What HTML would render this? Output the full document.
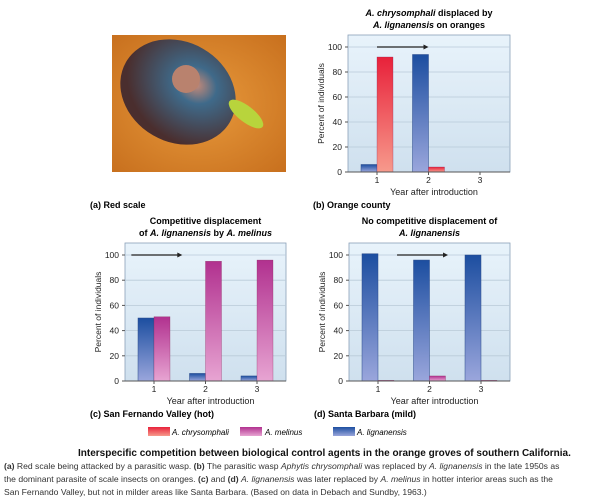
<!DOCTYPE html>
<html><head><meta charset="utf-8"><style>
body{margin:0;background:#fff;width:602px;height:502px;overflow:hidden;font-family:"Liberation Sans",sans-serif}
svg{display:block}
</style></head><body>
<svg id="s" width="602" height="502" xmlns="http://www.w3.org/2000/svg" font-family="Liberation Sans, sans-serif">
<defs>
<linearGradient id="bg" x1="0" y1="0" x2="0" y2="1"><stop offset="0" stop-color="#e8f3fb"/><stop offset="1" stop-color="#cfe0ee"/></linearGradient>
<linearGradient id="gb" x1="0" y1="0" x2="0" y2="1"><stop offset="0" stop-color="#1c4ea0"/><stop offset="1" stop-color="#9aa6dc"/></linearGradient>
<linearGradient id="gr" x1="0" y1="0" x2="0" y2="1"><stop offset="0" stop-color="#e8213a"/><stop offset="1" stop-color="#f79a8c"/></linearGradient>
<linearGradient id="gm" x1="0" y1="0" x2="0" y2="1"><stop offset="0" stop-color="#b1318f"/><stop offset="1" stop-color="#e7a4d2"/></linearGradient>
<radialGradient id="ph" cx="0.5" cy="0.5" r="0.7"><stop offset="0" stop-color="#e89a3c"/><stop offset="1" stop-color="#c8701e"/></radialGradient>
<radialGradient id="sc" cx="0.6" cy="0.35" r="0.6"><stop offset="0" stop-color="#c88a78"/><stop offset="0.3" stop-color="#3f6a8a"/><stop offset="1" stop-color="#4a2e2e"/></radialGradient>
</defs>
<g>
<rect x="112" y="35" width="174" height="137" fill="url(#ph)"/>
<ellipse cx="178" cy="92" rx="60" ry="50" fill="url(#sc)" transform="rotate(30 178 92)"/>
<ellipse cx="186" cy="79" rx="14" ry="14" fill="#b9826e"/>
<ellipse cx="246" cy="114" rx="21" ry="8" fill="#b8d43c" transform="rotate(38 246 114)"/>
</g>
<text x="90" y="208" font-size="9" font-weight="bold">(a) Red scale</text>
<g id="charts"></g>
<g font-size="8" font-style="italic">
<rect x="148" y="427" width="22" height="9" fill="url(#gr)"/><text x="172" y="435">A. chrysomphali</text>
<rect x="240" y="427" width="22" height="9" fill="url(#gm)"/><text x="265" y="435">A. melinus</text>
<rect x="333" y="427" width="22" height="9" fill="url(#gb)"/><text x="357" y="435">A. lignanensis</text>
</g>
<g font-size="8.6" fill="#333">
<text x="78" y="456" font-size="10" font-weight="bold" fill="#111">Interspecific competition between biological control agents in the orange groves of southern California.</text>
<text x="4" y="469"><tspan font-weight="bold">(a)</tspan> Red scale being attacked by a parasitic wasp. <tspan font-weight="bold">(b)</tspan> The parasitic wasp <tspan font-style="italic">Aphytis chrysomphali</tspan> was replaced by <tspan font-style="italic">A. lignanensis</tspan> in the late 1950s as</text>
<text x="4" y="482">the dominant parasite of scale insects on oranges. <tspan font-weight="bold">(c)</tspan> and <tspan font-weight="bold">(d)</tspan> <tspan font-style="italic">A. lignanensis</tspan> was later replaced by <tspan font-style="italic">A. melinus</tspan> in hotter interior areas such as the</text>
<text x="4" y="495">San Fernando Valley, but not in milder areas like Santa Barbara. (Based on data in Debach and Sundby, 1963.)</text>
</g>
</svg>
<script>
const years=["1","2","3"];
const yTicks=[0,20,40,60,80,100];
const bBlue=[6,94,null];
const bRed=[92,4,null];
const cBlue=[50,6,4];
const cMag=[51,95,96];
const dBlue=[101,96,100];
const dMag=[0.5,4,0.5];
const NS="http://www.w3.org/2000/svg";
const root=document.getElementById('charts');
function mk(tag,attrs,parent,txt){const e=document.createElementNS(NS,tag);for(const k in attrs)e.setAttribute(k,attrs[k]);if(txt!=null)e.textContent=txt;(parent||root).appendChild(e);return e;}
function chart(name,L,T,B,R,blue,other,otherFill,arrowFrom,arrowTo,title1,title2,label){
  const g=mk('g',{});
  
  
  const y=v=>B-v*(B-(T+12))/100;
  const x=i=>L+29+i*51.5;
  const bg=mk('rect',{x:L,y:T,width:R-L,height:B-T,fill:'url(#bg)',stroke:'#8aa0b8','stroke-width':0.8},g);
  
  yTicks.forEach(t=>{
    if(t>0){const gl=mk('line',{x1:L,x2:R,y1:y(t),y2:y(t),stroke:'#b9cad8','stroke-width':0.8},g);}
    mk('line',{x1:L-3,x2:L,y1:y(t),y2:y(t),stroke:'#555'},g);
    const tl=mk('text',{x:L-6,y:y(t)+3,'font-size':8.5,'text-anchor':'end',fill:'#222'},g,String(t));
    
  });
  years.forEach((yr,i)=>{
    const tl=mk('text',{x:x(i),y:B+11,'font-size':8.5,'text-anchor':'middle',fill:'#222'},g,yr);
    
    mk('line',{x1:x(i),x2:x(i),y1:B,y2:B+3,stroke:'#555'},g);
    if(blue[i]!=null){const r=mk('rect',{x:x(i)-16,y:y(blue[i]),width:16,height:B-y(blue[i]),fill:'url(#gb)',stroke:'#2a4a8a','stroke-width':0.5},g);}
    if(other[i]!=null){const r=mk('rect',{x:x(i),y:y(other[i]),width:16,height:B-y(other[i]),fill:otherFill,stroke:'#8a2a5a','stroke-width':0.3},g);}
  });
  mk('line',{x1:L,x2:R,y1:B,y2:B,stroke:'#555'},g);
  const ar=mk('line',{x1:x(arrowFrom),x2:x(arrowTo)-3,y1:y(100),y2:y(100),stroke:'#222','stroke-width':1.3},g);
  
  mk('polygon',{points:`${x(arrowTo)},${y(100)} ${x(arrowTo)-5},${y(100)-2.5} ${x(arrowTo)-5},${y(100)+2.5}`,fill:'#222'},g);
  const yl=mk('text',{transform:`translate(${L-24},${(T+B)/2}) rotate(-90)`,'font-size':8.5,'text-anchor':'middle',fill:'#222'},g,'Percent of individuals');
  
  const xl=mk('text',{x:(L+R)/2+5,y:B+23,'font-size':9,'text-anchor':'middle',fill:'#222'},g,'Year after introduction');
  
  const t1=mk('text',{x:(L+R)/2,y:T-19,'font-size':9,'font-weight':'bold','text-anchor':'middle'},g);t1.innerHTML=title1;
  
  const t2=mk('text',{x:(L+R)/2,y:T-7,'font-size':9,'font-weight':'bold','text-anchor':'middle'},g);t2.innerHTML=title2;
  
  const pl=mk('text',{x:L-35,y:B+36,'font-size':9,'font-weight':'bold'},g,label);
  
}
chart('chart-orange-county',348,35,172,510,bBlue,bRed,'url(#gr)',0,1,'<tspan font-style="italic">A. chrysomphali</tspan> displaced by','<tspan font-style="italic">A. lignanensis</tspan> on oranges','(b) Orange county');
chart('chart-san-fernando',125,243,381,286,cBlue,cMag,'url(#gm)',-0.44,0.55,'Competitive displacement','of <tspan font-style="italic">A. lignanensis</tspan> by <tspan font-style="italic">A. melinus</tspan>','(c) San Fernando Valley (hot)');
chart('chart-santa-barbara',349,243,381,510,dBlue,dMag,'url(#gm)',0.37,1.36,'No competitive displacement of','<tspan font-style="italic">A. lignanensis</tspan>','(d) Santa Barbara (mild)');
</script>
</body></html>
